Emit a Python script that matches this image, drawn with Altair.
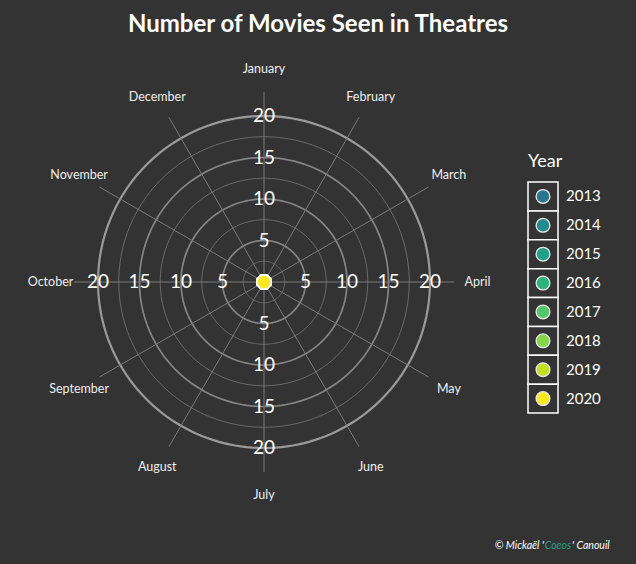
import altair as alt
import pandas as pd

# ---------------- data ----------------
MONTHS = ["January", "February", "March", "April", "May", "June",
          "July", "August", "September", "October", "November", "December"]
YEARS = ["2013", "2014", "2015", "2016", "2017", "2018", "2019", "2020"]
# movies seen in theatres per month (the captured frame shows every value at 0)
MOVIES_2013 = [0, 0, 0, 0, 0, 0, 0, 0, 0, 0, 0, 0]
MOVIES_2014 = [0, 0, 0, 0, 0, 0, 0, 0, 0, 0, 0, 0]
MOVIES_2015 = [0, 0, 0, 0, 0, 0, 0, 0, 0, 0, 0, 0]
MOVIES_2016 = [0, 0, 0, 0, 0, 0, 0, 0, 0, 0, 0, 0]
MOVIES_2017 = [0, 0, 0, 0, 0, 0, 0, 0, 0, 0, 0, 0]
MOVIES_2018 = [0, 0, 0, 0, 0, 0, 0, 0, 0, 0, 0, 0]
MOVIES_2019 = [0, 0, 0, 0, 0, 0, 0, 0, 0, 0, 0, 0]
MOVIES_2020 = [0, 0, 0, 0, 0, 0, 0, 0, 0, 0, 0, 0]
SERIES = [MOVIES_2013, MOVIES_2014, MOVIES_2015, MOVIES_2016,
          MOVIES_2017, MOVIES_2018, MOVIES_2019, MOVIES_2020]
COLORS = ["#2c7590", "#238a8d", "#1fa187", "#2fb37c",
          "#55c667", "#86d549", "#c2df23", "#fde725"]
MAJOR_TICKS = [5, 10, 15, 20]
MINOR_TICKS = [2.5, 7.5, 12.5, 17.5]
TICK_LABEL_DIRECTIONS = [0, 90, 180, 270]

# ---------------- style ----------------
BG = "#333333"
FONT = "Lato"
K = 8.3                      # pixels per unit
W, H, TOP = 636, 519, 45     # plot area and top padding
CX, CY = 264, 237            # centre in plot coordinates
SPOKE_R = 22.9
LABEL_R = 25.72
RING_STEP = 2                # degrees between ring vertices

X_SCALE = alt.Scale(domain=[-CX / K, (W - CX) / K], nice=False, zero=False)
Y_SCALE = alt.Scale(domain=[-(H - CY) / K, CY / K], nice=False, zero=False)
FILL_SCALE = alt.Scale(domain=YEARS, range=COLORS)

rows = []
for y, vals in zip(YEARS, SERIES):
    for i, (m, v) in enumerate(zip(MONTHS, vals)):
        rows.append({"year": y, "month": m, "mi": i, "count": v})
movies = pd.DataFrame(rows)
months = pd.DataFrame({"month": MONTHS, "mi": list(range(len(MONTHS)))})
rings = pd.concat([
    pd.DataFrame({"r": MINOR_TICKS, "kind": "minor"}),
    pd.DataFrame({"r": MAJOR_TICKS, "kind": "major"}),
])
ring_pts = rings.merge(pd.DataFrame({"t": list(range(0, 361, RING_STEP))}), how="cross")
ticklabels = pd.DataFrame([{"r": r, "d": d} for r in MAJOR_TICKS for d in TICK_LABEL_DIRECTIONS])
years = pd.DataFrame({"year": YEARS})


def ring_layer(flt, color, width):
    return alt.Chart(ring_pts).transform_filter(flt).transform_calculate(
        gx="datum.r * sin(datum.t * PI / 180)",
        gy="datum.r * cos(datum.t * PI / 180)",
    ).mark_line(interpolate="linear", color=color, strokeWidth=width).encode(
        x=alt.X("gx:Q", scale=X_SCALE, axis=None),
        y=alt.Y("gy:Q", scale=Y_SCALE, axis=None),
        detail="r:N",
        order=alt.Order("t:Q"),
    )


minor_rings = ring_layer("datum.kind == 'minor'", "#6a6a6a", 1)
major_rings = ring_layer("datum.kind == 'major' && datum.r < 20", "#858585", 1.7)
outer_ring = ring_layer("datum.r == 20", "#9a9a9a", 2.2)

spokes = alt.Chart(months).transform_calculate(
    a="datum.mi * PI / 6",
    x0="0", y0="0",
    x1=f"{SPOKE_R} * sin(datum.a)",
    y1=f"{SPOKE_R} * cos(datum.a)",
).mark_rule(color="#7a7a7a", strokeWidth=1).encode(
    x=alt.X("x0:Q", scale=X_SCALE, axis=None),
    y=alt.Y("y0:Q", scale=Y_SCALE, axis=None),
    x2="x1:Q", y2="y1:Q",
)

tick_text = alt.Chart(ticklabels).transform_calculate(
    lx="datum.r * sin(datum.d * PI / 180)",
    ly="datum.r * cos(datum.d * PI / 180)",
).mark_text(font=FONT, fontSize=19, color="white", align="center", baseline="middle").encode(
    x=alt.X("lx:Q", scale=X_SCALE, axis=None),
    y=alt.Y("ly:Q", scale=Y_SCALE, axis=None),
    text="r:Q",
)

month_text = alt.Chart(months).transform_calculate(
    lx=f"{LABEL_R} * sin(datum.mi * PI / 6)",
    ly=f"{LABEL_R} * cos(datum.mi * PI / 6)",
).mark_text(font=FONT, fontSize=12.5, color="#eeeeee", align="center", baseline="middle").encode(
    x=alt.X("lx:Q", scale=X_SCALE, axis=None),
    y=alt.Y("ly:Q", scale=Y_SCALE, axis=None),
    text="month:N",
)

points = alt.Chart(movies).transform_calculate(
    a="datum.mi * PI / 6",
    px="datum.count * sin(datum.a)",
    py="datum.count * cos(datum.a)",
).mark_point(filled=True, size=200, stroke="white", strokeWidth=1.5, opacity=1).encode(
    x=alt.X("px:Q", scale=X_SCALE, axis=None),
    y=alt.Y("py:Q", scale=Y_SCALE, axis=None),
    fill=alt.Fill("year:N", scale=FILL_SCALE, legend=None),
    order=alt.Order("year:N"),
)

polar = alt.layer(minor_rings, major_rings, outer_ring, spokes, tick_text, month_text, points)

# ---------------- legend ----------------
LY = alt.Y("year:N", sort=YEARS, axis=None,
           scale=alt.Scale(domain=YEARS, range=[182 - TOP, 413 - TOP], paddingInner=0, paddingOuter=0))

leg_box = alt.Chart(years).mark_rect(fill=BG, stroke="white", strokeWidth=1.5).encode(
    y=LY, x=alt.value(528), x2=alt.value(558))
leg_dot = alt.Chart(years).mark_point(filled=True, size=190, stroke="#e8e8e8", strokeWidth=1.3, opacity=1).encode(
    y=LY, x=alt.value(543), fill=alt.Fill("year:N", scale=FILL_SCALE, legend=None))
leg_txt = alt.Chart(years).mark_text(font=FONT, fontSize=15, color="white", align="left", baseline="middle").encode(
    y=LY, x=alt.value(566), text="year:N")
leg_title = alt.Chart(years.head(1)).mark_text(
    text="Year", font=FONT, fontSize=18, color="white", align="left", baseline="middle").encode(
    x=alt.value(528), y=alt.value(162 - TOP))
legend = alt.layer(leg_box, leg_dot, leg_txt, leg_title)

# ---------------- credit ----------------
cred1 = alt.Chart(years.head(1)).mark_text(
    text="© Mickaël '", font=FONT, fontSize=10.5, fontStyle="italic", color="white",
    align="right", baseline="middle").encode(x=alt.value(544), y=alt.value(546 - TOP))
cred2 = alt.Chart(years.head(1)).mark_text(
    text="Coeos", font=FONT, fontSize=10.5, fontStyle="italic", color="#1fa187",
    align="center", baseline="middle").encode(x=alt.value(558), y=alt.value(546 - TOP))
cred3 = alt.Chart(years.head(1)).mark_text(
    text="' Canouil", font=FONT, fontSize=10.5, fontStyle="italic", color="white",
    align="left", baseline="middle").encode(x=alt.value(572), y=alt.value(546 - TOP))

chart = alt.layer(polar, legend, cred1, cred2, cred3).resolve_scale(
    y="independent"
).properties(
    width=W, height=H,
    autosize=alt.AutoSizeParams(type="none"),
    padding={"top": TOP, "left": 0, "right": 0, "bottom": 0},
    background=BG,
    title=alt.Title("Number  of Movies Seen in Theatres", font=FONT, fontSize=24,
                    fontWeight="bold", color="white", anchor="middle", offset=8),
).configure_view(stroke=None)

chart.save("out.html", embed_options={"renderer": "svg", "actions": False})
